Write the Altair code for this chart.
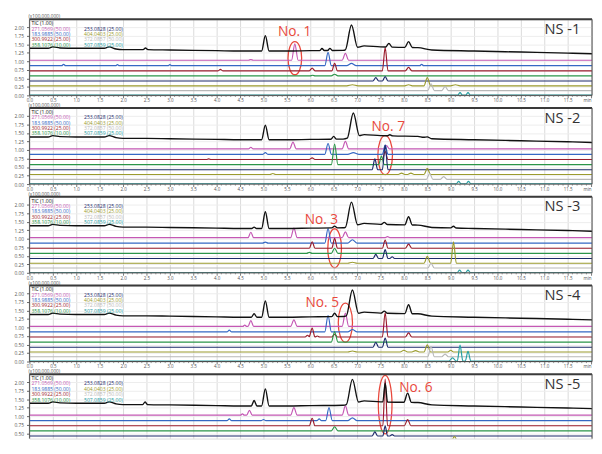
import altair as alt
import numpy as np
import pandas as pd

T_MAX = 12.02
Y_TOP = 2.23
PX_PER_UNIT = 35.0
W = 577
PX_PER_MIN = W / T_MAX

TRACES = ["TIC", "271.0569", "183.9885", "300.9922", "358.1076",
          "253.0828", "404.0403", "372.0857", "507.0859"]
KEYS = ["TIC", "271", "183", "300", "358", "253", "404", "372", "507"]
TRACE_SCALE = ["(1.00)", "(50.00)", "(50.00)", "(25.00)", "(10.00)",
               "(25.00)", "(25.00)", "(50.00)", "(25.00)"]
TRACE_COLORS = ["#111111", "#c458b4", "#3568c4", "#9a1c2c", "#2b9548",
                "#1d2b6b", "#9b9b2e", "#b8b8b8", "#26a0a3"]
BASELINE = [None, 1.03, 0.87, 0.72, 0.57, 0.42, 0.28, 0.14, 0.01]

TIC_BASE_T = [0.0, 0.4, 0.5, 0.65, 1.0, 1.6, 1.7, 1.85, 2.0, 2.5, 3.0, 4.0,
              4.5, 5.5, 6.0, 6.7, 7.15, 7.5, 8.3, 8.6, 9.5, 10.5, 11.5, 12.02]
TIC_BASE_Y = [1.38, 1.38, 1.42, 1.39, 1.38, 1.38, 1.42, 1.36, 1.34, 1.34, 1.33, 1.31,
              1.30, 1.30, 1.31, 1.32, 1.45, 1.42, 1.40, 1.33, 1.30, 1.27, 1.24, 1.22]

# peaks: (trace key, retention time, height above baseline, half width)
NS1_PEAKS = [
    ("TIC", 2.48, 0.05, 0.05), ("TIC", 5.04, 0.45, 0.08), ("TIC", 6.25, 0.06, 0.05),
    ("TIC", 6.42, 0.06, 0.05), ("TIC", 6.88, 0.69, 0.13), ("TIC", 7.68, 0.11, 0.07),
    ("TIC", 8.10, 0.17, 0.08),
    ("271", 4.73, 0.02, 0.05), ("271", 5.67, 0.48, 0.07), ("271", 6.75, 0.20, 0.07),
    ("183", 0.73, 0.04, 0.04), ("183", 1.88, 0.03, 0.04), ("183", 3.00, 0.03, 0.04),
    ("183", 6.38, 0.39, 0.07), ("183", 6.88, 0.07, 0.10), ("183", 8.38, 0.04, 0.04),
    ("300", 4.08, 0.04, 0.05), ("300", 6.04, 0.08, 0.06), ("300", 6.52, 0.22, 0.06),
    ("300", 7.60, 0.68, 0.06), ("300", 8.10, 0.10, 0.07),
    ("358", 6.05, 0.02, 0.06), ("358", 6.52, 0.05, 0.07),
    ("253", 7.40, 0.10, 0.06), ("253", 7.60, 0.13, 0.06),
    ("404", 6.90, 0.03, 0.12), ("404", 8.10, 0.03, 0.08), ("404", 8.50, 0.24, 0.07),
    ("404", 9.10, 0.03, 0.10),
    ("372", 8.58, 0.20, 0.07), ("372", 8.88, 0.12, 0.07),
    ("507", 9.20, 0.07, 0.05), ("507", 9.37, 0.07, 0.05),
]
NS2_PEAKS = [
    ("TIC", 5.04, 0.43, 0.08), ("TIC", 6.50, 0.08, 0.06), ("TIC", 6.92, 0.70, 0.13),
    ("TIC", 7.70, 0.03, 0.06), ("TIC", 8.50, 0.03, 0.08),
    ("271", 4.73, 0.05, 0.05), ("271", 5.63, 0.20, 0.07), ("271", 6.75, 0.22, 0.07),
    ("271", 7.63, 0.10, 0.06),
    ("183", 5.04, 0.05, 0.06), ("183", 6.38, 0.32, 0.07), ("183", 6.92, 0.05, 0.12),
    ("183", 7.60, 0.27, 0.06),
    ("300", 3.83, 0.02, 0.05), ("300", 6.04, 0.05, 0.06), ("300", 7.60, 0.23, 0.06),
    ("358", 6.52, 0.60, 0.07), ("358", 7.52, 0.25, 0.06),
    ("253", 7.38, 0.32, 0.06), ("253", 7.60, 0.72, 0.06),
    ("404", 5.20, 0.03, 0.06), ("404", 7.95, 0.04, 0.07), ("404", 8.15, 0.04, 0.07),
    ("404", 8.50, 0.18, 0.07),
    ("372", 8.55, 0.17, 0.07), ("372", 8.85, 0.08, 0.07),
    ("507", 9.17, 0.07, 0.05), ("507", 9.38, 0.07, 0.05),
]
NS3_PEAKS = [
    ("TIC", 4.80, 0.04, 0.05), ("TIC", 5.04, 0.49, 0.08), ("TIC", 6.52, 0.05, 0.06),
    ("TIC", 6.88, 0.70, 0.13), ("TIC", 7.58, 0.06, 0.07), ("TIC", 8.10, 0.24, 0.08),
    ("TIC", 9.06, 0.05, 0.06),
    ("271", 4.73, 0.16, 0.06), ("271", 5.65, 0.28, 0.07), ("271", 6.75, 0.17, 0.07),
    ("271", 7.65, 0.03, 0.06),
    ("183", 5.04, 0.03, 0.06), ("183", 6.38, 0.43, 0.07), ("183", 6.90, 0.10, 0.10),
    ("300", 6.04, 0.19, 0.06), ("300", 6.52, 0.29, 0.06), ("300", 7.60, 0.24, 0.06),
    ("300", 8.10, 0.12, 0.07),
    ("358", 5.98, 0.03, 0.06), ("358", 6.52, 0.15, 0.07),
    ("253", 7.40, 0.12, 0.06), ("253", 7.60, 0.26, 0.06), ("253", 7.75, 0.05, 0.05),
    ("404", 6.90, 0.03, 0.10), ("404", 8.50, 0.20, 0.07), ("404", 9.06, 0.63, 0.06),
    ("372", 8.58, 0.14, 0.07),
    ("507", 9.19, 0.07, 0.05), ("507", 9.37, 0.07, 0.05),
]
NS4_PEAKS = [
    ("TIC", 4.80, 0.10, 0.06), ("TIC", 5.04, 0.48, 0.08), ("TIC", 6.52, 0.10, 0.06),
    ("TIC", 6.90, 0.72, 0.13), ("TIC", 7.58, 0.06, 0.07), ("TIC", 8.10, 0.26, 0.08),
    ("271", 4.60, 0.04, 0.04), ("271", 4.73, 0.17, 0.06), ("271", 5.65, 0.19, 0.07),
    ("271", 6.75, 0.39, 0.07),
    ("183", 4.27, 0.05, 0.05), ("183", 6.38, 0.48, 0.07), ("183", 6.90, 0.07, 0.10),
    ("300", 5.94, 0.05, 0.05), ("300", 6.04, 0.26, 0.06), ("300", 6.15, 0.03, 0.05),
    ("300", 6.52, 0.08, 0.06), ("300", 7.60, 0.71, 0.06), ("300", 8.10, 0.12, 0.07),
    ("358", 6.52, 0.30, 0.07),
    ("253", 7.40, 0.14, 0.06), ("253", 7.60, 0.27, 0.06),
    ("404", 6.90, 0.03, 0.10), ("404", 8.00, 0.05, 0.08), ("404", 8.25, 0.04, 0.08),
    ("404", 8.50, 0.21, 0.07), ("404", 9.00, 0.05, 0.06),
    ("372", 8.58, 0.30, 0.07), ("372", 8.88, 0.08, 0.07),
    ("507", 9.04, 0.10, 0.08), ("507", 9.20, 0.47, 0.06), ("507", 9.37, 0.29, 0.06),
]
NS5_PEAKS = [
    ("TIC", 2.47, 0.08, 0.05), ("TIC", 4.80, 0.16, 0.06), ("TIC", 5.04, 0.50, 0.08),
    ("TIC", 6.90, 0.70, 0.13), ("TIC", 7.60, 0.55, 0.05), ("TIC", 8.08, 0.27, 0.08),
    ("271", 4.55, 0.04, 0.04), ("271", 4.70, 0.14, 0.06), ("271", 5.65, 0.22, 0.07),
    ("271", 6.75, 0.27, 0.07),
    ("183", 4.27, 0.05, 0.05), ("183", 5.00, 0.03, 0.05), ("183", 6.19, 0.05, 0.05),
    ("183", 6.40, 0.38, 0.07), ("183", 6.90, 0.08, 0.10),
    ("300", 6.04, 0.22, 0.06), ("300", 7.60, 1.37, 0.05), ("300", 8.08, 0.18, 0.07),
    ("358", 6.52, 0.12, 0.07),
    ("253", 7.38, 0.12, 0.06), ("253", 7.60, 0.30, 0.05), ("253", 7.75, 0.04, 0.05),
    ("404", 6.90, 0.03, 0.10), ("404", 8.55, 0.03, 0.07), ("404", 9.08, 0.13, 0.06),
    ("372", 8.58, 0.06, 0.07),
    ("507", 9.20, 0.07, 0.05), ("507", 9.37, 0.07, 0.05),
]
PANEL_PEAKS = [NS1_PEAKS, NS2_PEAKS, NS3_PEAKS, NS4_PEAKS, NS5_PEAKS]
PANEL_NAMES = ["NS -1", "NS -2", "NS -3", "NS -4", "NS -5"]

ANN_LABEL = ["No. 1", "No. 7", "No. 3", "No. 5", "No. 6"]
ANN_TEXT_T = [5.31, 7.31, 5.88, 5.90, 7.90]
ANN_TEXT_Y = [1.86, 1.66, 1.54, 1.72, 1.83]
ANN_RING_T = [5.67, 7.60, 6.52, 6.75, 7.60]
ANN_RING_Y = [1.09, 0.85, 0.72, 1.14, 1.34]
RING_PX = [(7, 17), (7.5, 20), (7, 20), (7.3, 20), (7, 30)]

X_MAJOR = [round(0.5 * i, 1) for i in range(25)]
X_MINOR = [round(0.1 * i, 1) for i in range(121) if i % 5 != 0]
Y_TICK_VALUES = [0.0, 0.25, 0.5, 0.75, 1.0, 1.25, 1.5, 1.75, 2.0]

H = 78
H_LAST = 66
RED = "#e8483c"
FONT = "Open Sans"

cscale = alt.Scale(domain=TRACES, range=TRACE_COLORS)


def trace_points(base_t, base_y, peaks):
    knots = set(base_t) | {0.0, T_MAX}
    for tp, h, w in peaks:
        knots |= {round(tp - w, 4), tp, round(tp + w, 4)}
    ts = np.array(sorted(k for k in knots if 0 <= k <= T_MAX))
    ys = np.interp(ts, base_t, base_y)
    for tp, h, w in peaks:
        ys = ys + np.clip(h * (1 - np.abs(ts - tp) / w), 0, None)
    return ts, ys


def panel_frame(peaks):
    rows = []
    for i, key in enumerate(KEYS):
        pk = [(t, h, w) for (k, t, h, w) in peaks if k == key]
        if key == "TIC":
            bt, by = TIC_BASE_T, TIC_BASE_Y
        else:
            bt, by = [0.0, T_MAX], [BASELINE[i], BASELINE[i]]
        ts, ys = trace_points(bt, by, pk)
        for t, y in zip(ts, ys):
            rows.append({"trace": TRACES[i], "t": float(t), "y": float(y), "k": i})
    return pd.DataFrame(rows)


def make_panel(p):
    last = p == 4
    h = H_LAST if last else H
    y_min = Y_TOP - h / PX_PER_UNIT if last else 0.0
    if last:
        xaxis = alt.Axis(values=X_MAJOR, title=None, labels=False, ticks=False,
                         domain=False, grid=True, gridColor="#dadada")
    else:
        xaxis = alt.Axis(
            values=X_MAJOR, title=None, domain=False,
            labelExpr="datum.value > 11.9 ? 'min' : format(datum.value, '.1f')",
            labelFontSize=4.6, labelColor="#555", labelPadding=0, labelOverlap=False,
            labelFlush=False,
            labelAlign={"condition": {"test": "datum.value > 11.9", "value": "right"},
                        "value": "center"},
            tickSize=2.5, tickColor="#555", tickWidth=0.8, grid=True,
            gridColor="#dadada")
    yaxis = alt.Axis(values=[v for v in Y_TICK_VALUES if v >= y_min], format=".2f",
                     title=None, labelFontSize=5, labelColor="#555", tickSize=3,
                     tickColor="#666", labelPadding=3, grid=True, gridColor="#ececec",
                     domain=False)
    xe = alt.X("t:Q", scale=alt.Scale(domain=[0, T_MAX], nice=False, zero=False), axis=xaxis)
    ye = alt.Y("y:Q", scale=alt.Scale(domain=[y_min, Y_TOP], nice=False, zero=False), axis=yaxis)

    one = pd.DataFrame({"a": [0]})
    hw, hh = RING_PX[p]
    rx = hw / hh
    ring_path = f"M {-rx} 0 A {rx} 1 0 1 0 {rx} 0 A {rx} 1 0 1 0 {-rx} 0 Z"
    ring = alt.Chart(pd.DataFrame({"t": [ANN_RING_T[p]], "y": [ANN_RING_Y[p]]})).mark_point(
        shape=ring_path, size=(2 * hh) ** 2, filled=False, color=RED,
        strokeWidth=1.3, opacity=1).encode(x=xe, y=ye)

    df = panel_frame(PANEL_PEAKS[p])
    base = alt.Chart(df)
    colored = base.transform_filter("datum.k > 0").mark_line(
        interpolate="monotone", strokeWidth=1.2, clip=True).encode(
        x=xe, y=ye, color=alt.Color("trace:N", scale=cscale, legend=None),
        detail="trace:N")
    tic = base.transform_filter("datum.k == 0").mark_line(
        interpolate="monotone", strokeWidth=1.4, clip=True).encode(
        x=xe, y=ye, color=alt.Color("trace:N", scale=cscale, legend=None))

    leg_rows = []
    for i, name in enumerate(TRACES):
        col = 0 if i < 5 else 1
        row = i if i < 5 else i - 4
        px = 2 if col == 0 else 56
        py = 4 + 5.5 * row
        leg_rows.append({"trace": name, "label": f"{name} {TRACE_SCALE[i]}",
                         "t": px / PX_PER_MIN, "y": Y_TOP - py / PX_PER_UNIT})
    leg = alt.Chart(pd.DataFrame(leg_rows)).mark_text(
        align="left", baseline="middle", fontSize=5.2, font=FONT).encode(
        x=xe, y=ye, text="label:N",
        color=alt.Color("trace:N", scale=cscale, legend=None))

    layers = [ring, colored, tic, leg]
    layers.append(alt.Chart(one).mark_text(
        align="left", baseline="bottom", fontSize=4.8, color="#555", font=FONT,
        text="(x100,000,000)").encode(x=alt.value(-1), y=alt.value(0)))
    layers.append(alt.Chart(one).mark_text(
        align="right", baseline="middle", fontSize=15, color="#333", font=FONT,
        text=PANEL_NAMES[p]).encode(x=alt.value(565), y=alt.value(10)))

    ann = pd.DataFrame({"label": [ANN_LABEL[p]], "t": [ANN_TEXT_T[p]], "y": [ANN_TEXT_Y[p]]})
    layers.append(alt.Chart(ann).mark_text(
        align="left", baseline="middle", fontSize=14, color=RED, font=FONT).encode(
        x=xe, y=ye, text="label:N"))

    layers += [
        alt.Chart(one).mark_rule(color="#3a3a3a", strokeWidth=2).encode(
            x=alt.value(0), x2=alt.value(W), y=alt.value(0)),
        alt.Chart(one).mark_rule(color="#555", strokeWidth=1).encode(
            x=alt.value(0), y=alt.value(0), y2=alt.value(h)),
        alt.Chart(one).mark_rule(color="#555", strokeWidth=1).encode(
            x=alt.value(W), y=alt.value(0), y2=alt.value(h)),
    ]
    if not last:
        layers.append(alt.Chart(one).mark_rule(color="#444", strokeWidth=1).encode(
            x=alt.value(0), x2=alt.value(W), y=alt.value(h)))
        layers.append(alt.Chart(pd.DataFrame({"t": X_MINOR})).mark_rule(
            color="#666", strokeWidth=0.7).encode(
            x=xe, y=alt.value(h), y2=alt.value(h + 1.6)))

    return alt.layer(*layers).properties(width=W, height=h)


panels = [make_panel(p) for p in range(5)]
chart = alt.vconcat(*panels, spacing=13, bounds="flush").properties(
    padding={"left": 5, "top": 0, "right": 0, "bottom": 0}
).configure_view(stroke=None).configure(font=FONT)

chart.save("out.html", embed_options={"renderer": "svg", "actions": False})
